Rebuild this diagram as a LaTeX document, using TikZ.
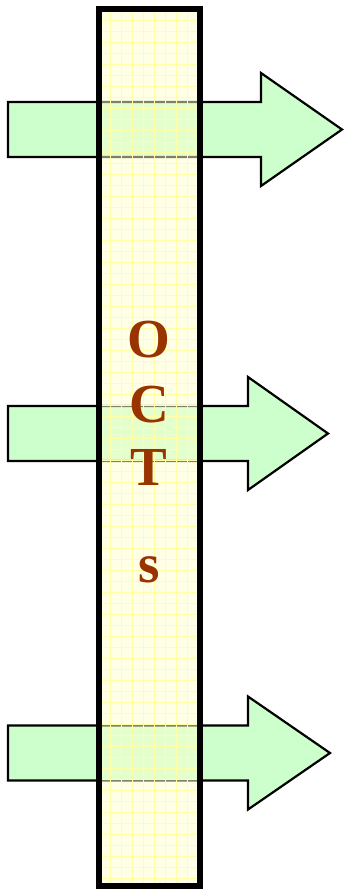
\documentclass[tikz,border=0pt]{standalone}
\usepackage{fontspec}
\setmainfont{Liberation Serif}[BoldFont={Liberation Serif Bold}]
\definecolor{arrowgreen}{HTML}{CCFFCC}
\definecolor{baryellow}{HTML}{FFFFCC}
\definecolor{gridyellow}{HTML}{FFFFA8}
\definecolor{letterbrown}{HTML}{993300}
\tikzset{
    flowarrow/.style={draw=black, line width=2.2pt, fill=arrowgreen, line join=miter},
    octbar/.style={fill=baryellow, fill opacity=0.5, draw=none},
    gridline/.style={draw=gridyellow, line width=0.5pt},
    barframe/.style={draw=black, line width=5.5pt},
    barletter/.style={font=\fontsize{55}{55}\selectfont\bfseries, text=letterbrown, inner sep=0pt, anchor=base}
}
\begin{document}
\begin{tikzpicture}[x=1pt, y=-1pt]
        \useasboundingbox (0,0) rectangle (345,890);

        % Green arrows passing through the column
        \foreach \cy/\hx/\tx in {129.5/261/342, 433.5/248/328, 753/248/330}{
            \draw[flowarrow] (8,\cy-27.5) -- (\hx,\cy-27.5) -- (\hx,\cy-56.5) -- (\tx,\cy)
                -- (\hx,\cy+56.5) -- (\hx,\cy+27.5) -- (8,\cy+27.5) -- cycle;
        }

        % Column
        \fill[octbar] (99,9) rectangle (200,886);
        \foreach \gx in {110,121,...,199}
            \draw[gridline] (\gx,9) -- (\gx,886);
        \foreach \gy in {20,31,...,885}
            \draw[gridline] (99,\gy) -- (200,\gy);
        \draw[barframe] (99,9) rectangle (200,886);

        % Letters
        \node[barletter] (O) at (149,357) {O};
        \node[barletter] (C) at (149,422) {C};
        \node[barletter] (T) at (149,485) {T};
        \node[barletter] (s) at (149,582) {s};
\end{tikzpicture}
\end{document}
